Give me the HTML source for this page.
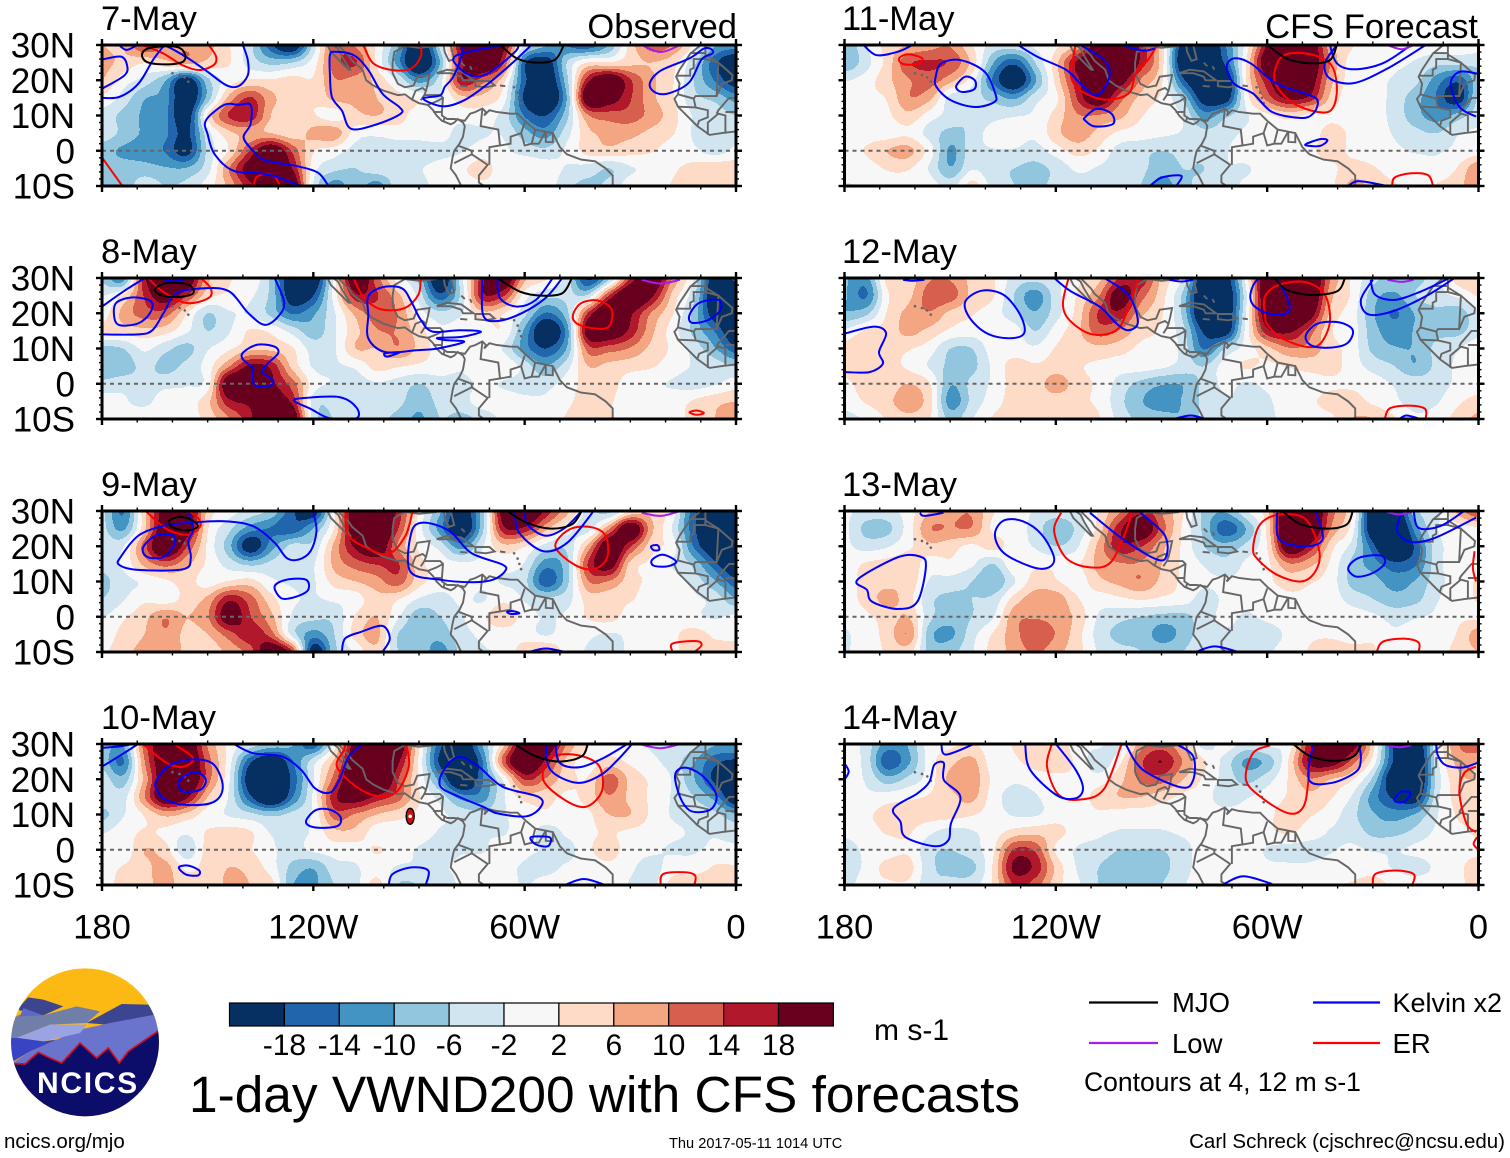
<!DOCTYPE html>
<html lang="en">
<head>
<meta charset="utf-8">
<title>1-day VWND200 with CFS forecasts</title>
<style>
html,body{margin:0;padding:0;background:#fff}
svg{display:block}
text{font-family:"Liberation Sans",sans-serif;fill:#000}
</style>
</head>
<body>
<svg id="chart" xmlns="http://www.w3.org/2000/svg" width="1510" height="1158" viewBox="0 0 1510 1158">
  <rect width="1510" height="1158" fill="#fff"/>
  <defs id="defs"></defs>
  <g id="panels"></g>

  <g id="colorbar"></g>
  <text x="874" y="1040" font-size="30">m s-1</text>
  <text x="189" y="1112" font-size="51.4">1-day VWND200 with CFS forecasts</text>

  <g>
    <line x1="1089" x2="1158" y1="1002.5" y2="1002.5" stroke="#000" stroke-width="2.2"/>
    <text x="1172" y="1012" font-size="27.5">MJO</text>
    <line x1="1313" x2="1380" y1="1002.5" y2="1002.5" stroke="#0000ff" stroke-width="2.2"/>
    <text x="1392.5" y="1012" font-size="27">Kelvin x2</text>
    <line x1="1089" x2="1158" y1="1043" y2="1043" stroke="#a020f0" stroke-width="2.2"/>
    <text x="1172" y="1053" font-size="27.5">Low</text>
    <line x1="1313" x2="1380" y1="1043" y2="1043" stroke="#ff0000" stroke-width="2.2"/>
    <text x="1392.5" y="1053" font-size="27.5">ER</text>
    <text x="1084" y="1091" font-size="26.5">Contours at 4, 12 m s-1</text>
  </g>

  <text x="4" y="1148" font-size="20.5">ncics.org/mjo</text>
  <text x="669" y="1148" font-size="14.6">Thu 2017-05-11 1014 UTC</text>
  <text x="1505" y="1148" font-size="20.5" text-anchor="end">Carl Schreck (cjschrec@ncsu.edu)</text>

  <g>
    <svg x="0" y="958" width="200" height="200" viewBox="0 0 600 600">
      <clipPath id="logoClip"><circle cx="255" cy="253" r="222"/></clipPath>
      <g clip-path="url(#logoClip)">
        <rect x="0" y="0" width="600" height="600" fill="#fdb913"/>
        <polygon fill="#3c4590" points="85,118 130,125 190,145 130,172 50,155"/>
        <polygon fill="#3c4590" points="365,138 445,140 480,190 320,200 260,195"/>
        <polygon fill="#6f7fa8" points="20,190 60,170 130,172 230,145 300,160 260,195 150,200 50,240 20,240"/>
        <polygon fill="#5d69c4" points="70,150 130,172 60,175"/>
        <polygon fill="#6a74cc" points="30,320 90,280 170,245 240,215 330,195 490,165 490,225 385,280 358,315 325,270 290,300 240,255 185,315 150,300 115,283 75,318"/>
        <polygon fill="#9ba3e3" points="50,240 150,200 260,200 240,225 130,250"/>
        <polygon fill="#3944c4" points="20,240 55,240 130,250 170,245 90,280 40,310 20,310"/>
        <polygon fill="#0c0c6b" points="20,320 75,318 115,283 150,300 185,315 240,255 290,300 325,270 358,315 385,280 490,212 490,500 20,500"/>
        <polyline fill="none" stroke="#d01020" stroke-width="5" points="30,316 75,318 115,283 150,300 185,315 240,255 290,300 325,270 358,315 385,280 480,215"/>
      </g>
    </svg>
    <text x="37" y="1093" font-size="30" font-weight="bold" letter-spacing="1.7" style="fill:#fff">NCICS</text>
  </g>
</svg>

<script>
// ---- colour scale -----------------------------------------------------
const levelBreaks = [-18,-14,-10,-6,-2,2,6,10,14,18];
const bandColors = ['#053061','#2166ac','#4393c3','#92c5de','#d1e5f0','#f7f7f7','#fddbc7','#f4a582','#d6604d','#b2182b','#67001f'];
const colorbarLabels = ['-18','-14','-10','-6','-2','2','6','10','14','18'];

// ---- axis labels ------------------------------------------------------
const latTicks = [30,20,10,0,-10];
const latLabels = ['30N','20N','10N','0','10S'];
const lonTicks = [180,120,60,0];
const lonLabels = ['180','120W','60W','0'];
const panelDates = ['7-May','8-May','9-May','10-May','11-May','12-May','13-May','14-May'];

// ---- meridional wind: rows 30N..10S every 5 deg, columns 180..0 every 6 deg ---
const vwnd7May = [
[5,5,12,8,8,6,2,-4,-14,-20,-4,10,8,1,-8,-20,-4,16,22,16,-2,-8,-12,-14,-8,3,10,8,1,-8,-10],
[6,4,2,4,6,4,2,-3,-6,-5,0,10,12,1,-10,-22,-8,14,22,12,-14,-18,-5,2,2,4,5,3,-4,-14,-20],
[5,0,-3,-8,-18,-6,0,2,2,3,2,8,7,4,-2,-10,-3,14,10,3,-14,-20,-6,14,20,12,6,2,-5,-12,-18],
[1,-3,-8,-10,-20,-7,6,12,6,3,2,6,6,5,3,1,-2,4,4,0,-16,-22,-8,20,18,12,6,2,-4,-6,-10],
[-3,-6,-9,-11,-18,2,12,14,5,3,2,0,4,5,3,0,-1,0,0,-3,-12,-15,-6,8,10,10,7,3,-2,-3,-5],
[-3,-6,-9,-11,-16,-3,4,6,5,3,6,7,0,-1,0,0,0,-3,-2,-2,-7,-10,-3,4,6,6,4,2,-2,-2,-2],
[-7,-9,-10,-12,-17,-4,2,12,20,11,2,0,-3,-3,-4,-4,-3,-2,0,-1,-3,-4,-1,3,4,3,2,0,-1,-3,-1],
[-7,-7,-7,-8,-8,-3,8,18,22,15,0,-4,-5,-3,-3,-2,0,1,3,0,1,0,-2,-3,-5,-2,-1,1,3,4,4],
[-6,-7,-3,-5,-4,0,6,14,18,20,-2,-10,-6,-10,-3,-3,0,0,1,0,-2,0,-4,-6,-4,0,0,2,4,3,5]];
const vwnd8May = [
[-6,-10,14,20,20,6,2,1,-6,-20,-20,0,20,10,0,-6,-20,-3,14,20,6,2,-3,-16,-6,12,20,8,-2,-18,-14],
[-2,2,12,18,12,3,1,-1,-6,-18,-15,0,14,12,6,-3,-14,-4,14,12,0,-4,-4,-4,12,22,16,4,-4,-20,-20],
[0,6,10,10,2,-5,-2,-2,-6,-12,-9,-2,6,10,8,0,-4,-2,4,2,-4,-12,-6,12,22,16,8,2,-6,-18,-20],
[2,3,4,3,-1,-5,-2,2,1,-3,-7,-2,4,8,8,3,-1,0,0,1,-9,-20,-10,18,20,14,6,0,-6,-12,-20],
[-6,-5,-1,-4,-6,-2,1,4,4,2,-3,-2,5,5,8,4,0,-1,0,-2,-10,-15,-8,10,10,8,4,1,-3,-8,-14],
[-8,-7,-4,-6,-4,0,8,16,14,4,-2,-2,-1,3,2,1,0,-1,1,1,-3,-8,-3,5,4,3,2,0,-2,-3,-5],
[-4,-3,-4,-3,-2,0,20,20,16,10,0,-2,-3,-2,-3,-5,-3,-3,-1,-2,-3,-3,0,3,3,0,-1,-2,-3,-2,0],
[0,-1,-3,1,0,4,14,16,18,14,-3,-4,-3,-3,-4,-7,-4,-3,0,0,-1,-1,1,3,2,0,-1,0,2,4,5],
[1,0,2,0,0,3,8,14,22,20,-3,-5,-3,-4,-6,-9,-5,-6,-4,-1,-1,0,2,4,2,0,-1,0,3,5,8]];
const vwnd9May = [
[-4,-12,4,18,20,4,0,-3,-6,-14,-18,1,20,22,14,1,-8,-18,-6,18,22,14,6,-3,-6,2,4,0,-14,-20,-20],
[-4,-9,4,20,18,2,-4,-10,-12,-14,-8,2,20,24,12,0,-10,-20,-6,14,14,6,0,-3,8,20,6,-2,-14,-22,-22],
[-3,-2,10,22,12,1,-7,-18,-10,-4,-4,6,16,20,8,1,-3,-10,-2,4,2,-3,-4,6,20,12,3,0,-12,-20,-22],
[-4,-1,6,10,6,1,-3,-6,-4,-2,-2,6,10,12,12,3,0,-1,-1,0,-2,-10,-6,12,18,4,1,-2,-6,-14,-20],
[-6,-3,-1,1,3,0,2,3,-1,-2,-2,3,5,7,10,3,0,0,-1,-2,-4,-14,-6,8,8,3,1,0,-3,-8,-14],
[-5,-2,1,0,3,6,14,10,3,-1,-2,-1,0,4,2,-2,-3,-1,-2,1,-2,-4,-3,3,3,2,0,0,-1,-3,-8],
[-2,1,4,8,5,8,18,12,6,-2,-4,-4,2,5,-1,-7,-5,-2,1,4,0,-2,-1,2,3,0,-1,0,-1,-2,-1],
[-1,3,5,8,4,5,10,14,10,-3,-10,-5,3,6,-5,-7,-7,-3,-1,0,0,-2,0,-1,-2,-1,0,1,3,1,0],
[1,4,6,8,4,3,6,10,20,12,-18,-6,-1,4,-5,-6,-10,-4,-2,-1,4,6,0,-2,-3,-1,0,1,3,3,5]];
const vwnd10May = [
[-6,-8,10,20,20,8,1,-3,-6,-8,-14,0,18,22,20,2,-14,-20,-8,4,20,20,8,2,0,-1,-2,-2,-4,-8,-8],
[-6,-12,8,20,22,10,0,-14,-20,-12,-3,6,20,24,16,1,-16,-22,-12,10,22,14,4,0,3,1,-1,-3,-8,-14,-16],
[-3,-7,6,20,22,10,-1,-18,-22,-14,-2,10,22,24,12,1,-10,-22,-12,-1,12,8,3,2,10,4,1,-2,-8,-16,-20],
[-2,-3,8,20,16,5,-2,-14,-22,-12,-1,14,18,14,10,2,-3,-10,-10,-2,3,3,1,3,8,4,1,-2,-5,-10,-20],
[-6,-2,2,6,4,0,-2,-4,-6,-4,-1,10,8,5,3,1,-1,-3,-4,-2,0,1,0,1,5,5,1,-2,-3,-4,-8],
[-2,0,2,1,-1,2,3,2,-2,-3,-1,4,4,0,0,0,-2,-3,-2,-2,0,-3,-1,1,2,1,0,-1,-2,-2,-3],
[0,-1,5,3,-4,3,4,2,-1,-3,-1,0,0,2,0,-2,-3,-2,-2,0,-1,-2,-3,1,3,0,-1,-2,-2,-1,-1],
[0,2,4,6,1,3,5,4,0,-6,-8,-3,-2,0,-2,-2,-2,-1,0,-1,-2,-3,-1,0,1,-1,-3,0,0,2,2],
[0,3,4,6,3,2,6,5,3,-8,-9,-5,-3,3,-5,-5,-4,-1,0,0,-2,0,1,0,1,-2,-3,3,4,3,3]];
const vwnd11May = [
[-8,-2,3,5,7,8,2,-3,-3,-1,1,6,20,22,14,3,-18,-22,-12,0,16,24,20,6,2,0,1,0,0,0,0],
[-8,-3,3,11,12,11,4,-8,-14,-5,4,16,22,24,14,3,-20,-22,-14,2,20,24,20,8,0,-1,-1,-2,-4,-4,-4],
[-2,0,4,8,10,6,0,-12,-20,-9,3,14,22,18,8,2,-14,-22,-20,2,14,22,18,6,0,-1,-2,-4,-10,-14,-6],
[0,1,2,8,6,-3,-4,-6,-9,-3,1,12,20,10,4,1,-6,-18,-18,0,10,16,14,4,0,0,-3,-7,-12,-18,-4],
[0,0,1,4,0,-3,-5,-3,-2,-1,3,8,8,6,2,0,-2,-10,-6,-2,1,3,1,1,0,0,-3,-7,-10,-7,-3],
[0,0,0,1,-3,-6,-4,0,0,-1,4,7,4,1,0,-1,-2,-4,-3,-1,0,0,0,3,1,0,-2,-4,-5,-2,-1],
[0,2,5,6,0,-9,-3,-2,-2,-3,0,3,1,-3,-4,-5,-4,-4,-2,0,0,0,1,3,1,0,-1,-2,-2,-1,0],
[0,0,2,2,-2,-8,-2,-4,-5,-6,-4,-1,-2,-3,-4,-7,-5,-5,-2,-2,0,0,0,1,3,2,0,0,-1,2,8],
[-2,-1,0,0,0,-3,3,-3,-5,-6,-4,-3,-3,-3,-5,-10,-6,-4,-3,-1,0,0,0,1,6,4,2,0,2,4,8]];
const vwnd12May = [
[-8,-10,3,3,8,8,4,2,-3,-4,-2,1,4,12,14,4,-2,-20,-18,0,22,24,22,8,1,-4,-6,-6,-3,3,4],
[-8,-12,1,4,10,10,4,2,-5,-10,-3,2,8,18,10,3,-6,-22,-20,-2,22,26,22,6,1,-7,-9,-5,-3,-1,2],
[-8,-6,2,6,8,4,2,0,-4,-8,-3,3,12,14,6,2,-6,-22,-20,-1,20,24,18,4,0,-8,-12,-8,-6,-7,-2],
[-1,2,3,6,4,1,0,1,0,-5,0,4,10,8,3,1,-4,-16,-18,0,14,16,10,2,0,-7,-10,-8,-6,-6,-3],
[3,4,3,2,0,-5,-5,0,0,-1,2,3,4,3,1,1,-3,-12,-5,0,4,8,7,3,0,-6,-8,-8,-4,-2,1],
[3,4,3,1,-2,-6,-6,-1,3,2,3,2,1,0,0,-1,-3,-5,0,2,1,2,3,3,0,-3,-5,-8,-4,-1,0],
[1,3,3,5,2,-8,-4,-1,3,3,7,3,1,-3,-6,-8,-8,-4,-1,-2,-1,0,0,1,1,0,-2,-3,-3,-1,0],
[0,2,4,7,3,-10,-4,0,3,3,3,2,1,-4,-8,-10,-8,-4,-2,-2,-2,0,1,3,3,1,-1,-3,-2,1,3],
[-3,-1,2,4,2,-6,-2,2,3,3,3,3,2,-3,-6,-7,-8,-4,-2,-2,-2,-1,0,1,5,5,2,-1,0,3,6]];
const vwnd13May = [
[-1,-3,-3,0,5,7,8,2,0,-2,-3,-2,2,8,14,8,2,-6,-8,-2,4,22,22,10,2,-20,-20,-6,-3,6,12],
[-1,-6,-6,0,8,8,8,1,0,-3,-8,-4,3,14,20,10,1,-6,-14,-8,3,24,22,8,0,-20,-24,-10,-2,0,1],
[-1,-3,-2,1,4,3,1,3,0,-2,-5,-2,6,14,12,6,1,-5,-7,-4,2,20,14,3,-3,-14,-24,-14,-3,-1,0],
[0,2,3,4,0,1,-1,-5,1,1,1,1,6,8,8,5,1,-2,-4,-1,1,8,6,1,-6,-10,-14,-12,-3,0,1],
[0,3,4,4,-2,-3,-5,-8,-2,3,2,0,4,6,8,4,1,-1,-1,-1,1,3,2,0,-6,-7,-10,-8,-3,0,2],
[0,3,6,3,-4,-6,-5,-4,3,7,7,2,0,1,2,1,0,-3,-1,-1,0,1,1,0,-3,-5,-7,-6,-2,0,2],
[-1,1,3,5,-4,-7,-5,-2,7,8,7,4,-2,-4,-5,-6,-6,-3,-1,-2,-1,0,0,0,0,-1,-3,-2,-1,1,1],
[-2,0,3,8,-7,-9,-3,2,7,11,8,3,-3,-6,-6,-10,-7,-3,-2,-3,-3,-1,1,1,0,1,-1,0,0,2,7],
[-2,0,2,3,-6,-6,-2,3,6,9,6,3,-2,-4,-5,-6,-5,-2,-2,-2,-2,0,2,4,3,2,0,0,0,3,5]];
const vwnd14May = [
[0,-3,-10,-8,0,1,2,0,2,4,4,0,-1,-3,7,10,5,-3,0,-3,-1,0,14,22,18,3,-16,-20,-2,8,12],
[0,-3,-14,-9,0,4,6,0,1,3,3,1,-4,1,11,15,8,2,-3,-9,-7,2,16,18,10,0,-16,-22,-3,6,5],
[-1,-2,-7,-4,0,6,7,1,-1,0,1,1,0,4,9,10,5,1,-3,-6,-3,2,8,5,2,-6,-20,-22,-4,4,5],
[0,-1,0,1,2,4,6,0,-3,-2,0,0,3,5,5,3,1,0,-4,-2,0,2,4,2,-2,-10,-16,-18,-3,3,4],
[0,1,3,3,3,3,2,0,-2,-2,0,0,1,0,0,0,1,0,0,0,1,3,2,0,-4,-8,-10,-8,-2,2,2],
[-1,0,2,2,-1,-3,-2,0,3,4,3,0,-1,-2,-2,-2,-1,0,0,0,1,2,0,-2,-3,-6,-6,-4,-1,1,2],
[-3,-1,0,1,-4,-5,-3,1,12,11,1,-2,-3,-5,-5,-5,-3,0,0,0,-2,-3,-3,-2,-1,-2,-2,-1,0,1,1],
[-3,-1,3,3,-4,-6,-6,2,16,14,4,-2,-5,-7,-7,-6,-3,0,0,0,-1,-1,-1,0,0,0,-2,-3,-1,1,3],
[-3,0,1,1,-4,-4,-3,2,12,10,3,-1,-5,-6,-6,-5,-2,0,0,0,0,0,0,1,2,3,1,0,0,1,3]];
const vwndPanels = [vwnd7May,vwnd8May,vwnd9May,vwnd10May,vwnd11May,vwnd12May,vwnd13May,vwnd14May];

// ---- filtered-wave contours: [degrees west, latitude] vertices, per panel -----
const kelvinContours = [
[ // 7-May
[[180,25.9],[174.6,26.7],[172.9,24.3],[173.6,21.4],[180,17.6]],
[[180,15],[175,15.3],[169.6,19.1],[165.5,25.8],[162.3,30]],
[[175.2,30],[173,28.6],[170,30]],
[[162.3,30],[159.6,28.6],[155.5,26.2],[150,22.4],[144.7,18.6],[141.3,18.3],[138.6,21.4],[138.6,25.7],[140,30]],
[[123.5,-10],[133,-6.7],[142.6,-5.7],[148,-1],[150,4.6],[150.5,8.6],[145.3,13],[141.2,13],[137.8,13],[137.8,7.6],[139.8,3.8],[137.1,0],[133.7,-2.7],[124.9,-4.3],[118.7,-6.2],[115.7,-10]],
[[115.3,27.1],[114,28.1],[108.5,27.1],[104.4,22.9],[100.4,16.2],[95.6,12.4],[95.2,10.5],[101.7,7.6],[109.2,6.2],[111.9,11.4],[114.7,15.2],[115.3,21.9]],
[[58.1,30],[63.6,24.8],[70.4,19],[77.2,14.3],[83.3,12.6],[88.8,14.8],[84,15.7],[82.7,18.1],[80.6,20.5],[78.6,24.8],[77.2,30]],
[[79.2,27.1],[77.9,22.9],[73.1,21.1],[67.7,23.8],[62.2,30]],
[[7,28.8],[6.7,27.6],[9.8,25.9],[13.2,19.5],[18.7,16.4],[22.7,16.4],[24.5,19],[21.4,22.7],[13.2,26.2],[9.1,29]]],
[ // 8-May
[[180,14],[169.8,14],[165.7,15.2],[162.3,20.4],[158.9,25.7],[150.7,27.1],[143.9,26.2],[138.4,20],[133.7,16.7],[129.6,19.5],[128.3,23.3],[131,30]],
[[180,21.9],[173.9,26.2],[167.8,30]],
[[175.9,23],[171.2,24.5],[166,23.3],[166.4,20],[169.8,17.1],[175.2,16.7],[176.6,19.5]],
[[163.7,30],[159.6,29],[155.5,30]],
[[139.8,9],[135.8,11.1],[131,10.5],[130,8.6],[133,5.7],[134.4,3.3],[131.4,.9],[132.3,-.5],[136.4,-.5],[137.4,2.4],[137.1,4.3],[140.1,7.1]],
[[125.5,-4.8],[122.1,-4],[112.6,-3.8],[107.8,-6.7],[107.8,-9.8],[115.3,-9.8],[120.8,-7.1]],
[[104.4,12.9],[99.7,9],[90.8,9.5],[84.7,10],[77.2,11.9],[82.7,12.4],[84.7,13],[77.9,13.3],[72.4,14.8],[78.6,15.2],[86.1,14.8],[89.5,18.1],[92.2,23.3],[94.9,27.1],[100.4,27.4],[104.4,24.8],[104.4,19.5]],
[[99.7,8.6],[95.6,8.9],[99,7.7]],
[[72,30],[71.8,19.5],[67.7,17.8],[60.9,20],[54.1,24.3],[49.3,30]],
[[67.7,30],[67,24.3],[62.2,21.9],[56.8,23.8],[52,30]],
[[13.2,19.5],[10.5,22.9],[5,23.8],[4.4,21],[7.8,18.1],[12.5,17.3]]],
[ // 9-May
[[120.1,30],[119.1,24.3],[120.8,18.6],[124.2,16.2],[127.6,16.7],[131,21],[137.1,25.7],[145.3,27.1],[154.8,26.7],[163,25.7],[169.8,22.9],[174.6,17.1],[175.2,14.8],[169.8,13.3],[156.9,13.5],[154.8,16.7],[155.5,21.4],[154.1,25],[155.5,30]],
[[168.4,19.5],[165,22.9],[160.3,23.3],[159.3,21],[162.3,17.1],[167,16.9]],
[[131,8.6],[127.6,10.5],[122.1,10.5],[121.5,7.6],[124.9,5.7],[129,5.2]],
[[111.9,-10],[111,-6.2],[106.5,-4.3],[100.4,-2.6],[98.3,-6.2],[100.4,-10]],
[[92.5,12.9],[92.2,23.8],[88.8,26.7],[81.3,24.3],[75.2,18.1],[66.3,14.8],[65.6,12.9],[69,10.5],[74.5,9.8],[84,10.5]],
[[62.9,30],[61.5,23.8],[54.7,18.6],[47.9,21],[40.4,30]],
[[60.2,29.5],[58.8,25.7],[54,23],[48.6,25.2],[43.8,30]],
[[24.1,20],[22.3,20.3],[21.8,19],[23.4,18.9]],
[[23.8,16.2],[20.7,17.6],[17,15.7],[19.4,14.3],[23.4,14.5]],
[[65,1.4],[63.3,1.6],[61.5,1],[63.9,.8]],
[[58.8,-10],[54,-9],[48.6,-10]]],
[ // 10-May
[[180,28.9],[175.2,29.3],[171.2,30]],
[[180,23.6],[175.2,26.5],[169.8,30]],
[[164.5,19.8],[160.5,24.1],[153.6,25.7],[148.2,24.1],[145.7,17.9],[148.2,13.6],[155.7,12.7],[161.8,14.1],[164.5,17]],
[[158.2,19.3],[156.2,21.2],[152.8,21.9],[150.5,19.8],[152.1,17],[156.9,16.5],[158.2,18.1]],
[[142.6,30],[137.1,27.4],[129,26.5],[123.5,22.7],[119.5,17.4],[115.3,16.2],[112.6,19.8],[109.9,26.5],[105.8,30]],
[[122.1,7.9],[119.4,11.2],[115.3,11.4],[112.3,9.3],[113.2,6.7],[119.4,6.3]],
[[78.6,26.3],[73.1,23.6],[66.3,17.9],[56.1,15],[55.4,12.2],[59.5,9.5],[67.7,10.3],[71.8,12.2],[78.6,15],[84,18.1],[82.7,23]],
[[58.4,3.4],[56.1,3.8],[52.7,3.4],[53.4,1],[56.8,1.5]],
[[51.3,30],[50,24.6],[44.5,23.4],[37.7,26],[30.9,30]],
[[54,30],[52.7,22.7],[45.2,19],[38.4,21.2],[33.6,25.5],[29.5,30]],
[[17.3,21.2],[14.6,23.3],[9.8,21.2],[5.7,16],[6.4,12.2],[9.1,10.8],[13.2,11.2],[15.9,15]],
[[158.2,-5],[155.5,-4.5],[152.4,-5.9],[152.8,-7.3],[156.2,-7]],
[[98.6,-10],[97.5,-6.9],[92.2,-5],[87.4,-5.9],[88.1,-10]],
[[48.6,-10],[43.2,-8.3],[37.1,-10]]],
[ // 11-May
[[174.6,30],[170.9,27.1],[164.8,28.1],[160.7,30]],
[[154.1,21],[152.5,24.8],[147,25.7],[140.2,22.4],[137.2,16.2],[137.5,13.8],[143,12.4],[149.8,14.3],[153.9,18.1]],
[[148.2,18.6],[145.7,21],[143,20],[143,17.6],[145.7,16.7],[147.7,17.1]],
[[130.7,30],[125.3,26.7],[117,22.9],[113,19],[108.3,15.7],[104.8,21],[106.2,25.7],[113,30]],
[[111.7,9.5],[108.3,11.9],[104.2,10.5],[103.8,7.6],[109,6.9],[111.7,8.6]],
[[101.4,30],[95.3,28.4],[91.9,29]],
[[71.5,23.8],[69.4,26.2],[64.7,24.8],[57.2,19],[47.7,15.7],[45.6,13.8],[47,10.5],[50.4,9.3],[58.6,11],[64,16.2],[69.4,19]],
[[40.2,30],[43.6,24.8],[42.2,20.5],[35.4,19.2],[25.9,23.3],[15,30]],
[[42.2,30],[40.2,24.8],[35.4,23.1],[27.2,24.8],[19.1,30]],
[[0.4,21.9],[5.4,22.4],[7.9,19],[5.4,12.4],[0.7,9.7]],
[[49,1.9],[44.9,3.3],[42.9,2.9],[44.9,1.4],[48.3,1.4]],
[[93.3,-10],[89.9,-7.6],[84.4,-7.1],[85.8,-10]],
[[37,-10],[34,-8.6],[25.9,-10]]],
[ // 12-May
[[179.7,14.3],[171.6,16.2],[168.2,14.3],[170.2,9],[169.1,5.7],[172.9,3.3],[179.7,3.3]],
[[145.7,23.3],[141,26.4],[134.8,25.2],[130.1,19.5],[129,14.3],[133.5,12.9],[139.6,14.3],[144.4,18.6]],
[[120.5,30],[115.7,26.2],[107.6,21.9],[102.8,17.1],[99.4,15.2],[96.7,17.6],[99.4,25.2],[106.2,30]],
[[64.7,25.7],[62.7,29.5],[57.9,30],[53.9,23.3],[54.5,20],[59.9,20],[64,22.4]],
[[49,13.8],[45.6,17.1],[39.5,17.4],[35.7,15.2],[37.4,11.4],[42.9,10.2],[47.7,11]],
[[30,29.5],[33.4,23.8],[31.3,19.7],[24.5,20.5],[15,24.8],[6.8,30]],
[[30.6,29.5],[29.3,25.2],[23.8,23.8],[16.3,26.2],[8.2,30]],
[[87.8,29.5],[84.4,29],[81,29.5]],
[[163.4,29.5],[160.7,29.2],[157.3,29.5]],
[[86.5,-10],[81.7,-9],[77.6,-10]],
[[22.5,-10],[20.4,-9],[16.6,-10]]],
[ // 13-May
[[176.3,10.5],[164.8,16.9],[158.6,17.1],[156.9,14.3],[159.3,4.3],[164.8,2.2],[172.2,4.3],[173.6,7.6]],
[[158.6,29.5],[157.3,28.6],[151.9,29.5]],
[[137.3,23.3],[134.8,27.3],[129.4,27.1],[124,23.3],[120.5,16.7],[122.5,13.8],[127.3,14.3],[134.8,18.1]],
[[110.3,29.5],[100.8,21.9],[91.2,16.2],[88.5,17.6],[89.2,23.3],[96,29.5]],
[[57.2,29.5],[56.5,21.9],[49,20],[44.3,21.9],[45.6,28],[46.3,30]],
[[37,13.8],[34,16.7],[27.9,17.4],[26.6,15.2],[30,12.4],[34.7,11.4]],
[[21.8,29.5],[23.1,24.3],[19.1,21.2],[12.3,22.4],[.7,28.1]],
[[18.4,30],[17,25.2],[10.9,25.7],[4.1,30]],
[[80.3,-10],[74.9,-8.4],[68.1,-10]]],
[ // 14-May
[[179.7,24.1],[178.8,22.2],[179.7,20.3]],
[[152.5,29.8],[151.2,27],[143.7,29.8]],
[[166.1,11.7],[159.3,16],[155.9,19.3],[154.5,24.1],[151.8,24.6],[151.8,19.8],[147.1,15],[149.8,7.4],[150.5,2.7],[154.5,1],[162.7,3.6],[164.1,7.9]],
[[128.7,29.8],[127.3,22.7],[119.8,15.5],[114.4,14.6],[112.3,17.4],[114.4,22.7],[119.8,29.8]],
[[100.1,29.8],[95.3,22.7],[84.4,17.7],[81,19.8],[81,26.5],[85.8,30]],
[[47,30],[48.1,19.8],[41.5,19],[34.7,22.2],[33.4,26],[34,30]],
[[23.8,14.6],[21.8,16.5],[19.3,16],[21.1,13.6],[23.4,13.6]],
[[12,30],[11.6,27],[9.5,24.1],[4.8,23.3],[.4,24.6]],
[[72.2,-9.7],[66.7,-7.5],[58.6,-9.7]]]
];
const erContours = [
[[[168.6,30],[162.6,27.6],[157.2,24.3],[152.4,22.9],[148.3,24.3],[147.6,26.7],[149.7,30]],
 [[105.8,30],[103,24.8],[97.6,22.9],[92.3,23.3],[89.5,26.7],[89.5,30]],
 [[180,-1.9],[177.3,-5.7],[174.2,-10]],
 [[136.9,-10],[136.2,-7.6],[133.5,-6.5],[130.8,-7.6],[129.5,-10]]],
[[[166.9,30],[162.8,26.2],[156,22.9],[149.8,24.3],[149.1,27],[151.9,30]],
 [[108.6,30],[105.9,24.8],[101.1,21.2],[94.3,21.4],[90.2,25.2],[89.5,30]],
 [[46.3,19.5],[43.9,22.9],[39.1,23.6],[35.3,21],[36.1,16.2],[40.4,15.7],[45.2,17.1]],
 [[13.2,-8.1],[11.1,-7.6],[9.1,-8.3],[11.1,-8.8]]],
[[[167.6,30],[161.5,24.8],[155.5,23.3],[152.1,25.7],[152.8,28.1],[155.5,30]],
 [[110.9,30],[110.2,23.3],[104.8,19.5],[98.7,17.8],[93.9,22.9],[91.8,30]],
 [[51.3,20],[47.2,24.8],[41.1,25.4],[37,22.9],[36.6,16.7],[40.4,13.5],[45.9,14.8]],
 [[18,-10],[18,-7.6],[11.2,-6.9],[9.8,-8.1],[11.8,-10]]],
[[[168.4,30],[161.6,24.6],[156.9,23.6],[154.1,26],[159.6,30]],
 [[111,30],[111.2,28.4],[113.3,23.6],[107.8,17.9],[101.7,15.2],[96.3,16.5],[92.9,23.6],[93.6,30]],
 [[54.7,19.8],[52.7,26],[45.9,27],[39.1,24.1],[38,16.9],[42.5,12.2],[48.6,14.1]],
 [[21.4,-10],[20.7,-6.9],[14.6,-6.4],[11.6,-7.3],[11.8,-10]]],
[[[164.5,26.2],[162,27.4],[157.9,26.2],[159.3,24.6],[163.4,24.6]],
 [[114.4,30],[115,26.7],[115.7,21],[113,17.1],[106.2,14.5],[99.4,16.2],[97.3,21.9],[93.9,25.7],[91.2,30]],
 [[57.9,20],[55.8,26.7],[49,27.6],[42.2,24.8],[40.2,18.1],[41.5,11.9],[45.6,11],[53.1,13.8]],
 [[24.5,-10],[23.8,-7.6],[19.1,-6.4],[14.3,-6.9],[12.9,-10]]],
[[[116.4,30],[118,22.4],[115.7,17.6],[109.6,14],[102.8,15.2],[99.4,21.4],[96.7,29.5]],
 [[60.6,19.5],[60.6,24.8],[56.5,28.1],[49,28.8],[43.6,25.2],[42.2,17.6],[44.9,11.4],[49,10.5],[55.8,12.9],[59.9,16.7]],
 [[26.6,-10],[25.2,-7],[19.7,-6.2],[15.2,-7.1],[15,-10]]],
[[[118.5,29.5],[120.5,24.3],[117.1,16.7],[110.3,14],[104.2,15.7],[99.4,26.2],[98.7,29.5]],
 [[64,19.5],[62,26.2],[56.5,29],[49,27.6],[45.2,18.6],[46.3,12.9],[50.4,10],[57.2,11.9],[62.6,16.2]],
 [[28.9,-10],[27.2,-7.1],[21.1,-6.2],[17,-7.3],[17,-10]],
 [[1.1,18.6],[1.6,13.8],[.7,10]]],
[[[121.2,29.8],[122.5,23.6],[119.1,15.5],[112.3,14.3],[106.2,17.4],[101.4,29.8]],
 [[59.2,29.6],[64,27.4],[66,19.8],[61.3,14.6],[53.8,10.3],[49.7,12.2],[48.3,19.8],[47.7,29]],
 [[30,-10],[29.3,-6.9],[23.8,-5.9],[18.4,-6.9],[18.8,-10]],
 [[.7,23.6],[4.1,21.7],[5.4,16],[3.4,7.4],[.7,5]],
 [[.4,3.6],[1.4,1.7],[.4,.3]]]
];
const mjoContours = [
[[[168.6,27.6],[165.9,29.3],[159,29.5],[156.5,27.6],[157.1,25.2],[162,24.5],[167.3,25.2]],
 [[67,30],[62.2,26.2],[56.8,25],[51.3,25.9],[48.9,30]]],
[[[165,26.7],[161.6,28.6],[155.5,28.1],[154.1,25.7],[158.2,24.6],[162.9,25]],
 [[67.7,30],[61.5,26.2],[55.4,25],[49.3,25.7],[46.6,30]]],
[[[161,27.1],[158.2,28.3],[154.8,27.6],[152.8,25.7],[155.5,24.5],[159.6,25.2]],
 [[65,30],[59.5,26.7],[52.7,25],[46.6,26.2],[43.8,30]]],
[[[62.9,30],[56.8,26.5],[50,25],[43.8,26.5],[42.1,30]]],
[[[59.9,30],[54.5,26.2],[47.7,24.8],[42.2,25.7],[40.2,30]]],
[[[57.9,30],[54.5,26.7],[47.7,25.2],[40.2,26.2],[37.9,30]]],
[[[55.1,29.5],[50.4,26.2],[42.9,25],[37.4,26.2],[35.7,30]]],
[[[52.4,29.8],[47.7,26.5],[40.9,25.2],[35.4,26.5],[33.4,29.8]]]
];
const lowContours = [
[[[26.8,30],[21.4,28],[15.9,30]]],
[[[26.8,29.5],[21.4,28.4],[15.9,29.5]]],
[[[26.8,29.5],[21.4,28.6],[15.9,30]]],
[[[26.8,29.8],[21.4,28.8],[15.9,30]]],
[[[25.9,30],[21.8,28.8],[18.4,30]]],
[[[25.9,29.5],[21.8,28.9],[18.4,29.5]]],
[[[25.9,29.7],[22.5,29],[19.1,29.7]]],
[[[25.9,29.6],[22.5,29.1],[19.1,29.6]]]
];

// ---- map outlines: [degrees west, latitude] ----------------------------
const coastLines = [
[[116,30],[115,28],[114,27],[112,25],[110,23],[109.5,23],[110.5,24.5],[112,27],[113,29],[114.5,30]],
[[113,30],[112,29],[110,27],[109,25.5],[106,23],[105,20],[103,18.5],[100,17],[96,15.8],[94,16],[92,14.5],[90,13.5],[87.5,13],[86,11.5],[85,10],[83.5,8.5],[81,7.5],[80,8],[79,9],[77.5,8],[77,7],[77.5,4],[78.5,2],[80,0],[80.5,-2],[81,-5],[79.5,-7],[78,-10]],
[[85,29.7],[90,29.2],[94,29.7],[97,28],[97.5,25],[97.5,22],[96,19],[94,18],[91.5,18.5],[90.5,21],[87,21.5],[87.5,19],[88,17],[88.5,15.8],[84,15.8],[83.2,15],[83.5,11],[83.5,10],[82,9],[80,9],[77,8.5],[75.5,10.5],[74,11],[72,12],[71,11],[71.5,10],[70,11.5],[68,11],[64,10.5],[62,10.5],[60,8.5],[57,6],[52,5],[50,1],[48,-1],[44,-2.5],[40,-3],[37,-5],[35,-7],[35,-10]],
[[83,30],[82.7,28],[81.5,25.5],[80,26],[81,30]],
[[85,22],[82,23],[78,22.5],[74.5,20],[77.5,20],[78,21],[81,22],[85,22]],
[[74,19.8],[70,19.8],[68.5,18.5],[71,18],[74,18.3],[74,19.8]],
[[78.3,18.4],[76.3,18.2]],[[67,18.5],[65.5,18.3]],[[78,25],[77,24]],[[75.5,24],[75,23]],
[[72,12],[72.5,7],[67.5,6],[67,1.5],[70,1],[70,-4]],[[80,-3.5],[75,-1],[70.5,-4],[73,-7],[73,-9],[70,-11]],
[[60,8],[61,5],[64,4],[64,2],[67,1.5]],[[79,1.5],[75,0],[75,-1]],
[[57,6],[58,2],[56,2],[54,5.5]],[[54,5.5],[54,2.5],[52,2.4],[52,5]],[[61,5],[60,1.5],[58,2]],
[[92,14.5],[91,17],[89,17.8],[88,17]],[[88.5,15.8],[89.5,14.3]],[[87.5,13],[85,14],[83.2,15]],[[86,11],[83.7,11]],[[83,8.5],[82.7,9.6]],
[[10,30],[13,27.5],[16,23],[17,21],[16,19],[16.5,16],[17.5,14.7],[16.5,12.5],[15,11],[13.5,9.5],[11,7],[7.5,4.5],[4,5],[0,5.5]],
[[8.7,30],[8.7,27.7],[13,27.7]],[[8.7,27.7],[8.7,26],[12,26],[12,23.5],[13,23],[13,21.3],[17,21.3]],
[[8.7,27.3],[5,25],[1,21.5],[1.2,20],[4,19],[5.5,15.5]],[[8.7,26],[5,25],[5.5,15.5],[11.5,15.5],[12,14.8],[16.5,16]],
[[12,14.8],[11.5,12.5]],[[16.5,12.5],[11.5,12.3],[8,11.5],[8,9.5],[10.5,8.5],[11,7]],
[[8,4.5],[8,8],[5,10.5],[3,10],[3,5]],[[3,11],[0,11],[0,6]],[[5.5,10.5],[5,11.5],[2,15],[0,15]]
];
const islandPoints = [[160,22],[158,21.5],[156.5,20.8],[155.5,19.6],[61.5,15],[61,13.5],[63,18],[62,16.5]];

// ---- layout and axes ---------------------------------------------------
const PANEL_W = 634, PANEL_H = 141;
const FIELD_GAIN = 1.2; // compensates peak loss from smoothing a coarsely read grid
const NS = 'http://www.w3.org/2000/svg';
const root = document.getElementById('panels');
const defs = document.getElementById('defs');

function xScale(left, lonW){ return left + (180 - lonW) / 180 * PANEL_W; }
function yScale(top, lat){ return top + (30 - lat) / 40 * PANEL_H; }
function make(tag, attrs, parent){
  const n = document.createElementNS(NS, tag);
  for (const k in attrs) n.setAttribute(k, attrs[k]);
  parent.appendChild(n);
  return n;
}
function catmull(a, b, c, d, t){
  return 0.5 * ((2*b) + (c-a)*t + (2*a-5*b+4*c-d)*t*t + (3*b-a-3*c+d)*t*t*t);
}
function bandIndex(v){
  let i = 0;
  while (i < levelBreaks.length && v * FIELD_GAIN >= levelBreaks[i]) i++;
  return i;
}
function sampleGrid(grid){
  const nr = grid.length, nc = grid[0].length;
  const CELL = 1, cols = PANEL_W, rows = PANEL_H;
  const out = [];
  for (let j = 0; j < rows; j++){
    const fy = (j + .5) * CELL / PANEL_H * (nr - 1);
    const r1 = Math.min(nr - 2, Math.floor(fy)), ty = fy - r1;
    const r0 = Math.max(0, r1 - 1), r2 = r1 + 1, r3 = Math.min(nr - 1, r1 + 2);
    const line = [];
    for (let i = 0; i < cols; i++){
      const fx = (i + .5) * CELL / PANEL_W * (nc - 1);
      const c1 = Math.min(nc - 2, Math.floor(fx)), tx = fx - c1;
      const c0 = Math.max(0, c1 - 1), c2 = c1 + 1, c3 = Math.min(nc - 1, c1 + 2);
      const rowVal = r => catmull(grid[r][c0], grid[r][c1], grid[r][c2], grid[r][c3], tx);
      line.push(catmull(rowVal(r0), rowVal(r1), rowVal(r2), rowVal(r3), ty));
    }
    out.push(line);
  }
  return {values: out, cell: CELL};
}
function drawHeat(group, left, top, grid){
  const s = sampleGrid(grid);
  const paths = bandColors.map(() => []);
  s.values.forEach((line, j) => {
    let start = 0, band = bandIndex(line[0]);
    for (let i = 1; i <= line.length; i++){
      const b = i < line.length ? bandIndex(line[i]) : -1;
      if (b !== band){
        const w = (i - start) * s.cell;
        paths[band].push('M' + (Math.round(left) + start * s.cell) + ' ' + (top + j * s.cell) + 'h' + w + 'v' + s.cell + 'h-' + w + 'z');
        start = i; band = b;
      }
    }
  });
  paths.forEach((parts, k) => {
    if (!parts.length) return;
    const p = make('path', {d: parts.join(''), fill: bandColors[k], 'shape-rendering': 'crispEdges'}, group);
    
    
  });
}
function onEdge(p){ return p[1] >= 28.9 || p[1] <= -9.5 || p[0] <= 1.7 || p[0] >= 179; }
function smoothPath(pts, left, top){
  const closed = !(onEdge(pts[0]) && onEdge(pts[pts.length - 1]));
  const P = pts.map(p => [xScale(left, p[0]), yScale(top, p[1])]);
  const n = P.length;
  const at = i => closed ? P[(i + n) % n] : P[Math.max(0, Math.min(n - 1, i))];
  let d = 'M' + P[0][0].toFixed(1) + ' ' + P[0][1].toFixed(1);
  const segs = closed ? n : n - 1;
  for (let i = 0; i < segs; i++){
    const a = at(i-1), b = at(i), c = at(i+1), e = at(i+2);
    d += 'C' + (b[0] + (c[0]-a[0])/6).toFixed(1) + ' ' + (b[1] + (c[1]-a[1])/6).toFixed(1) + ' ' +
         (c[0] - (e[0]-b[0])/6).toFixed(1) + ' ' + (c[1] - (e[1]-b[1])/6).toFixed(1) + ' ' +
         c[0].toFixed(1) + ' ' + c[1].toFixed(1);
  }
  return d + (closed ? 'z' : '');
}
function drawContours(group, sets, color, width, left, top, label){
  sets.forEach(pts => {
    const p = make('path', {d: smoothPath(pts, left, top), fill: 'none', stroke: color, 'stroke-width': width}, group);
    
    
  });
}
function drawPanel(idx){
  const col = idx < 4 ? 0 : 1, row = idx % 4;
  const left = col === 0 ? 102 : 844.5, top = 45 + row * 233;
  const g = make('g', {}, root);
  
  

  const clip = make('clipPath', {id: 'clip' + idx}, defs);
  make('rect', {x: left, y: top, width: PANEL_W, height: PANEL_H}, clip);
  const inner = make('g', {'clip-path': 'url(#clip' + idx + ')'}, g);

  const heat = make('g', {}, inner);
  
  
  drawHeat(heat, left, top, vwndPanels[idx]);

  const map = make('g', {fill: 'none', stroke: '#666', 'stroke-width': 1.9}, inner);
  
  
  coastLines.forEach(line => {
    make('polyline', {points: line.map(p => xScale(left, p[0]).toFixed(1) + ',' + yScale(top, p[1]).toFixed(1)).join(' ')}, map);
  });
  islandPoints.forEach(p => {
    make('circle', {cx: xScale(left, p[0]), cy: yScale(top, p[1]), r: 1.3, fill: '#666', stroke: 'none'}, map);
  });

  const eq = make('line', {x1: left, x2: left + PANEL_W, y1: yScale(top, 0), y2: yScale(top, 0), stroke: '#666', 'stroke-width': 1.9, 'stroke-dasharray': '4 4'}, inner);
  
  

  drawContours(inner, erContours[idx], '#ff0000', 2, left, top, 'er');
  drawContours(inner, kelvinContours[idx], '#0000ff', 2, left, top, 'kelvin');
  drawContours(inner, mjoContours[idx], '#000000', 2, left, top, 'mjo');
  drawContours(inner, lowContours[idx], '#a020f0', 2, left, top, 'low');

  if (idx === 3){
    const tc = make('g', {}, inner);
    
    
    make('ellipse', {cx: xScale(left, 92.5), cy: yScale(top, 9.5), rx: 4, ry: 8, fill: '#d01010', stroke: '#000', 'stroke-width': 1.4}, tc);
    make('circle', {cx: xScale(left, 92.5), cy: yScale(top, 9.5), r: 1.8, fill: '#fff'}, tc);
  }

  // frame and ticks
  const axes = make('g', {stroke: '#000', fill: 'none'}, g);
  
  
  make('rect', {x: left, y: top, width: PANEL_W, height: PANEL_H, 'stroke-width': 3}, axes);
  for (let lon = 180; lon >= 0; lon -= 10){
    const major = lon % 60 === 0, L = major ? 6 : 3.5, x = xScale(left, lon);
    make('line', {x1: x, x2: x, y1: top - L, y2: top, 'stroke-width': major ? 2.4 : 1.4}, axes);
    make('line', {x1: x, x2: x, y1: top + PANEL_H, y2: top + PANEL_H + L, 'stroke-width': major ? 2.4 : 1.4}, axes);
  }
  for (let lat = 30; lat >= -10; lat -= 2){
    const major = lat % 10 === 0, L = major ? 6 : 3, y = yScale(top, lat);
    make('line', {x1: left - L, x2: left, y1: y, y2: y, 'stroke-width': major ? 2.4 : 1.4}, axes);
    make('line', {x1: left + PANEL_W, x2: left + PANEL_W + L, y1: y, y2: y, 'stroke-width': major ? 2.4 : 1.4}, axes);
  }

  if (col === 0){
    latTicks.forEach((lat, k) => {
      const t = make('text', {x: 75, y: yScale(top, lat) + 12.5, 'font-size': 35, 'text-anchor': 'end'}, g);
      t.textContent = latLabels[k];
      
      
    });
  }
  if (row === 3){
    lonTicks.forEach((lon, k) => {
      const t = make('text', {x: xScale(left, lon), y: top + PANEL_H + 53.5, 'font-size': 34.5, 'text-anchor': 'middle'}, g);
      t.textContent = lonLabels[k];
      
      
    });
  }
  const title = make('text', {x: col === 0 ? left - 1 : left - 2.5, y: top - 15, 'font-size': 34.5}, g);
  title.textContent = panelDates[idx];
  
  
}
panelDates.forEach((d, i) => drawPanel(i));

// panel corner headings
const obsTitle = make('text', {x: 737, y: 38, 'font-size': 34.5, 'text-anchor': 'end'}, root);
obsTitle.textContent = 'Observed';


const fcstTitle = make('text', {x: 1478, y: 38, 'font-size': 34.5, 'text-anchor': 'end'}, root);
fcstTitle.textContent = 'CFS Forecast';



// colorbar
const cb = document.getElementById('colorbar');
const CB_X = 229.5, CB_Y = 1003, CB_BOX = 54.9, CB_H = 23;
bandColors.forEach((c, i) => {
  const r = make('rect', {x: CB_X + i * CB_BOX, y: CB_Y, width: CB_BOX, height: CB_H, fill: c, stroke: '#000', 'stroke-width': 1.2}, cb);
  
  
});
colorbarLabels.forEach((s, i) => {
  const t = make('text', {x: CB_X + (i + 1) * CB_BOX, y: 1055, 'font-size': 30, 'text-anchor': 'middle'}, cb);
  t.textContent = s;
  
  
});
</script>
</body>
</html>
